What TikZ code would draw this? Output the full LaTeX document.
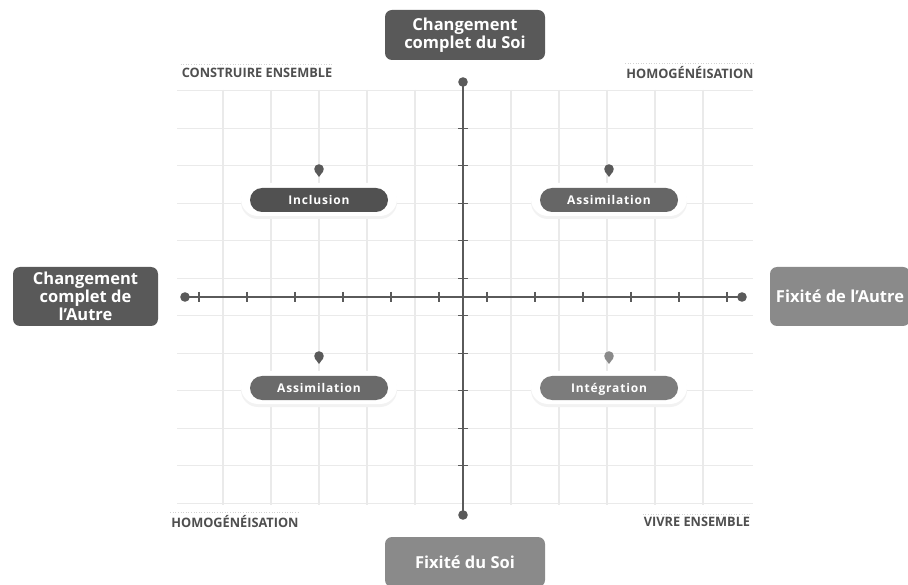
\documentclass[tikz,border=0pt]{standalone}
\usepackage{fontspec}
\setmainfont{Open Sans}
\definecolor{darkbox}{HTML}{595959}
\definecolor{lightbox}{HTML}{8A8A8A}
\definecolor{axisc}{HTML}{5A5A5A}
\definecolor{gridc}{HTML}{EAEAEA}
\definecolor{labc}{HTML}{4F4F4F}
\begin{document}
\begin{tikzpicture}[x=1pt,y=-1pt,
  bigbox/.style={rounded corners=7pt, text=white, align=center,
    font=\bfseries\fontsize{16.5}{18}\selectfont, inner sep=0pt},
  pill/.style={rounded corners=12pt, minimum width=138pt, minimum height=24pt,
    text=white, inner sep=0pt, text height=9pt, text depth=0pt,
    font=\bfseries\fontsize{12}{14}\selectfont\addfontfeature{LetterSpace=7}},
  halo/.style={fill=white, rounded corners=17pt},
  gridline/.style={draw=gridc, line width=1.1pt},
  axisline/.style={draw=axisc, line width=2pt},
  tickmark/.style={draw=axisc, line width=1.1pt},
  corner/.style={text=labc, inner sep=1pt,
    font=\bfseries\fontsize{13}{15}\selectfont},
  dotline/.style={draw=gray!35, dotted, line width=0.6pt}
]
\useasboundingbox (0,0) rectangle (908,585);
\fill[white] (0,0) rectangle (908,585);

% grid
\foreach \k in {-5,...,5}
  \draw[gridline] ({463+48*\k},90) -- ({463+48*\k},505);
\foreach \k in {0,...,5} {
  \draw[gridline] (177,{297-18.75-37.5*\k}) -- (753,{297-18.75-37.5*\k});
  \draw[gridline] (177,{297+18.75+37.5*\k}) -- (753,{297+18.75+37.5*\k});
}

% halos around pills
\foreach \cx/\cy in {319/200, 609/200, 319/388, 609/388} {
  \fill[gray!10, rounded corners=17pt] (\cx-78,\cy-15) rectangle (\cx+78,\cy+19);
  \fill[halo] (\cx-78,\cy-17) rectangle (\cx+78,\cy+16);
}

% axis ends
\coordinate (L) at (185,297);
\coordinate (R) at (742,297);
\coordinate (T) at (463,82);
\coordinate (B) at (463,515);
\draw[axisline] (L) -- (R);
\draw[axisline] (T) -- (B);
\foreach \p in {L,R,T,B} \fill[axisc] (\p) circle (4.8);

% ticks
\foreach \k in {0,...,5} {
  \draw[tickmark] ({463-24-48*\k},292) -- ({463-24-48*\k},302);
  \draw[tickmark] ({463+24+48*\k},292) -- ({463+24+48*\k},302);
}
\foreach \k in {0,...,4} {
  \draw[tickmark] (458,{297-18.75-37.5*\k}) -- (468,{297-18.75-37.5*\k});
  \draw[tickmark] (458,{297+18.75+37.5*\k}) -- (468,{297+18.75+37.5*\k});
}

% main boxes
\node[bigbox, fill=darkbox, minimum width=160pt, minimum height=50pt] (soi) at (465,35) {Changement\\complet du Soi};
\node[bigbox, fill=darkbox, minimum width=145pt, minimum height=59pt] (autre) at (85.5,296.5) {Changement\\complet de\\l’Autre};
\node[bigbox, fill=lightbox, minimum width=140pt, minimum height=59pt] (fixautre) at (840,296.5) {Fixité de l’Autre};
\node[bigbox, fill=lightbox, minimum width=160pt, minimum height=50pt] (fixsoi) at (465,562) {Fixité du Soi};

% pills
\node[pill, fill=darkbox!105] (incl) at (319,200) {Inclusion};
\node[pill, fill=darkbox!92!white] (assA) at (609,200) {Assimilation};
\node[pill, fill=darkbox!90!white] (assB) at (319,388) {Assimilation};
\node[pill, fill=lightbox!90!black] (integ) at (609,388) {Intégration};

% markers (drops pointing down)
\foreach \cx/\cy/\c in {319/169/axisc, 609/169/axisc, 319/356/axisc, 609/356/lightbox} {
  \fill[\c] (\cx,\cy) circle (4.8);
  \fill[\c] (\cx-4.5,\cy+1.8) -- (\cx+4.5,\cy+1.8) -- (\cx,\cy+8) -- cycle;
}

% corner labels
\node[corner] (ce) at (257,72.5) {\scalebox{0.98}[1]{CONSTRUIRE ENSEMBLE}};
\node[corner] (h1) at (690,72.5) {\scalebox{0.98}[1]{HOMOGÉNÉISATION}};
\node[corner] (h2) at (235,522) {\scalebox{0.98}[1]{HOMOGÉNÉISATION}};
\node[corner] (ve) at (697,522) {\scalebox{0.98}[1]{VIVRE ENSEMBLE}};
\foreach \n in {ce,h1,h2,ve}
  \draw[dotline] ([yshift=2pt]\n.north west) -- ([yshift=2pt]\n.north east);
\end{tikzpicture}
\end{document}
